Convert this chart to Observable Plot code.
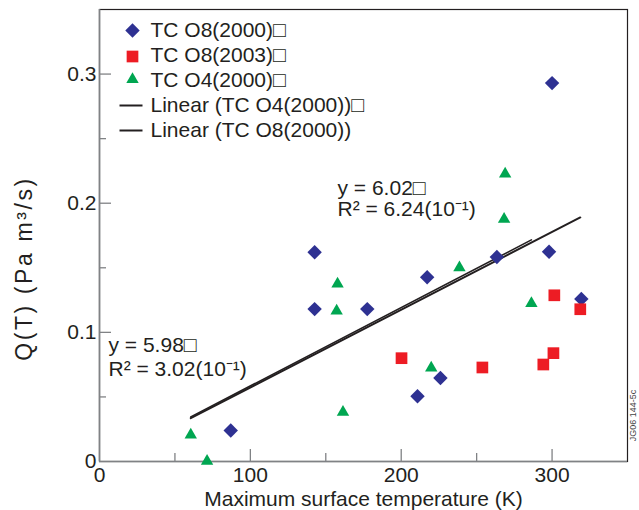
<!DOCTYPE html>
<html>
<head>
<meta charset="utf-8">
<script src="https://cdn.jsdelivr.net/npm/d3@7"></script>
<script src="https://cdn.jsdelivr.net/npm/@observablehq/plot@0.6"></script>
<style>
  html, body { margin: 0; padding: 0; background: #ffffff; }
</style>
</head>
<body>
<div id="chart"></div>
<script>
// ---- data ----
const seriesNames = ["TC O8(2000)□", "TC O8(2003)□", "TC O4(2000)□"];

const o8_2000_x = [87, 142.6, 142.6, 177.5, 217.2, 210.8, 226, 263.4, 298, 319.4, 300];
const o8_2000_y = [0.024, 0.162, 0.118, 0.118, 0.1427, 0.0505, 0.0647, 0.1583, 0.1624, 0.1259, 0.293];

const o8_2003_x = [200.2, 253.8, 294.2, 300.9, 301.5, 318.7];
const o8_2003_y = [0.080, 0.0728, 0.0751, 0.0839, 0.1287, 0.1179];

const o4_2000_x = [60.5, 71.3, 157.8, 157.2, 161.4, 238.6, 219.9, 268.9, 268.2, 286.3];
const o4_2000_y = [0.0206, 0.0003, 0.1376, 0.1166, 0.0382, 0.1501, 0.0724, 0.2226, 0.1876, 0.1224];

// trend lines (y = intercept + slope * x over the drawn x range)
const trendNames = ["Linear (TC O4(2000))□", "Linear (TC O8(2000))"];
const trendSlope = [0.000607, 0.000602];
const trendIntercept = [-0.0022, -0.0029];
const trendXStart = [60.5, 60.5];
const trendXEnd = [286.3, 318.7];

const annotationTop = ["y = 6.02□", "R² = 6.24(10⁻¹)"];
const annotationLeft = ["y = 5.98□", "R² = 3.02(10⁻¹)"];

const xTicks = [0, 100, 200, 300];
const xMinorTicks = [50, 150, 250];
const yTicks = [0, 0.1, 0.2, 0.3];
const yTickLabels = ["0", "0.1", "0.2", "0.3"];
const yMinorTicks = [0.05, 0.15, 0.25];

const xLabel = "Maximum surface temperature (K)";
const yLabel = "Q(T) (Pa m³/s)";
const figureId = "JG06 144-5c";

// ---- styling ----
const colors = ["#2e3192", "#ed1c24", "#00a651"];
const symbols = ["diamond2", "square", "triangle"];
const radii = [6.5, 6.6, 4.6];
const ink = "#231f20";
const axisGray = "#808285";

const W = 639, H = 510;
const mL = 99, mR = 12, mT = 9, mB = 49;
const plotH = H - mT - mB;
const plotW = W - mL - mR;

const toPts = (xs, ys) => xs.map((x, i) => ({x, y: ys[i]}));
const series = [
  toPts(o8_2000_x, o8_2000_y),
  toPts(o8_2003_x, o8_2003_y),
  toPts(o4_2000_x, o4_2000_y)
];

const trendLines = trendNames.map((name, i) => [
  {x: trendXStart[i], y: trendIntercept[i] + trendSlope[i] * trendXStart[i]},
  {x: trendXEnd[i], y: trendIntercept[i] + trendSlope[i] * trendXEnd[i]}
]);

const lineSymbol = {draw(ctx) { ctx.moveTo(-11.5, 0); ctx.lineTo(11.5, 0); }};

const font = "'Liberation Sans', Arial, Helvetica, sans-serif";
const fs = 21;

const marks = [
  Plot.frame({stroke: ink, strokeWidth: 1.2}),
  Plot.ruleX([0], {stroke: axisGray, strokeWidth: 1.6}),
  Plot.ruleY([0], {stroke: axisGray, strokeWidth: 1.6}),
  // inward ticks
  Plot.tickX(xTicks.slice(1), {x: d => d, insetTop: plotH - 12, stroke: axisGray, strokeWidth: 1.3}),
  Plot.tickX(xMinorTicks, {x: d => d, insetTop: plotH - 8, stroke: axisGray, strokeWidth: 1.3}),
  Plot.tickY(yTicks.slice(1), {y: d => d, insetRight: plotW - 12, stroke: axisGray, strokeWidth: 1.3}),
  Plot.tickY(yMinorTicks, {y: d => d, insetRight: plotW - 7, stroke: axisGray, strokeWidth: 1.3}),
  Plot.axisX({ticks: xTicks, tickSize: 0, tickPadding: 6, tickFormat: d => String(d), label: null, fontSize: fs, fill: ink}),
  Plot.axisY({ticks: yTicks, tickSize: 0, tickPadding: 3, tickFormat: d => yTickLabels[yTicks.indexOf(d)], label: null, fontSize: fs, fill: ink}),
  // trend lines
  Plot.line(trendLines[0], {x: "x", y: "y", stroke: ink, strokeWidth: 1.6}),
  Plot.line(trendLines[1], {x: "x", y: "y", stroke: ink, strokeWidth: 2}),
  // points
  ...series.map((pts, i) => Plot.dot(pts, {x: "x", y: "y", symbol: symbols[i], r: radii[i], fill: colors[i], stroke: "none"})),
  // annotations
  Plot.text([annotationTop[0]], {frameAnchor: "top-left", dx: 238, dy: 179, textAnchor: "start", lineAnchor: "middle", fontSize: fs, fill: ink}),
  Plot.text([annotationTop[1]], {frameAnchor: "top-left", dx: 238, dy: 200, textAnchor: "start", lineAnchor: "middle", fontSize: fs, fill: ink}),
  Plot.text([annotationLeft[0]], {frameAnchor: "top-left", dx: 9, dy: 336, textAnchor: "start", lineAnchor: "middle", fontSize: fs, fill: ink}),
  Plot.text([annotationLeft[1]], {frameAnchor: "top-left", dx: 9, dy: 360, textAnchor: "start", lineAnchor: "middle", fontSize: fs, fill: ink}),
  // axis labels
  Plot.text([xLabel], {frameAnchor: "top", dy: 499 - mT, textAnchor: "middle", lineAnchor: "middle", fontSize: fs, fill: ink}),
  Plot.text([yLabel], {frameAnchor: "top-left", dx: -75, dy: 268 - mT, rotate: -90, textAnchor: "middle", lineAnchor: "middle", fontSize: 23, fill: ink, className: "ylabel"}),
  Plot.text([figureId], {frameAnchor: "top-right", dx: 6, dy: 415 - mT, rotate: -90, textAnchor: "middle", lineAnchor: "middle", fontSize: 9, fill: "#444"})
];

// legend
const legendLabels = [...seriesNames, ...trendNames];
legendLabels.forEach((label, i) => {
  const dy = 21 + 25 * i;
  if (i < 3) {
    const symDy = i === 2 ? dy - 1 : (i === 1 ? dy + 1 : dy);
    marks.push(Plot.dot([0], {frameAnchor: "top-left", dx: 33, dy: symDy, symbol: symbols[i], r: radii[i], fill: colors[i], stroke: "none"}));
  } else {
    marks.push(Plot.dot([0], {frameAnchor: "top-left", dx: 31.5, dy, symbol: lineSymbol, r: 5, fill: "none", stroke: ink, strokeWidth: 2}));
  }
  marks.push(Plot.text([label], {frameAnchor: "top-left", dx: 51, dy, textAnchor: "start", lineAnchor: "middle", fontSize: fs, fill: ink}));
});

const chart = Plot.plot({
  width: W, height: H,
  marginLeft: mL, marginRight: mR, marginTop: mT, marginBottom: mB,
  x: {domain: [0, 350]},
  y: {domain: [0, 0.35]},
  style: {fontFamily: font, fontSize: fs + "px", color: ink, background: "#ffffff", overflow: "visible"},
  marks
});
chart.querySelectorAll("g.ylabel text").forEach(t => t.setAttribute("letter-spacing", "2.6"));
document.getElementById("chart").appendChild(chart);
</script>
</body>
</html>
